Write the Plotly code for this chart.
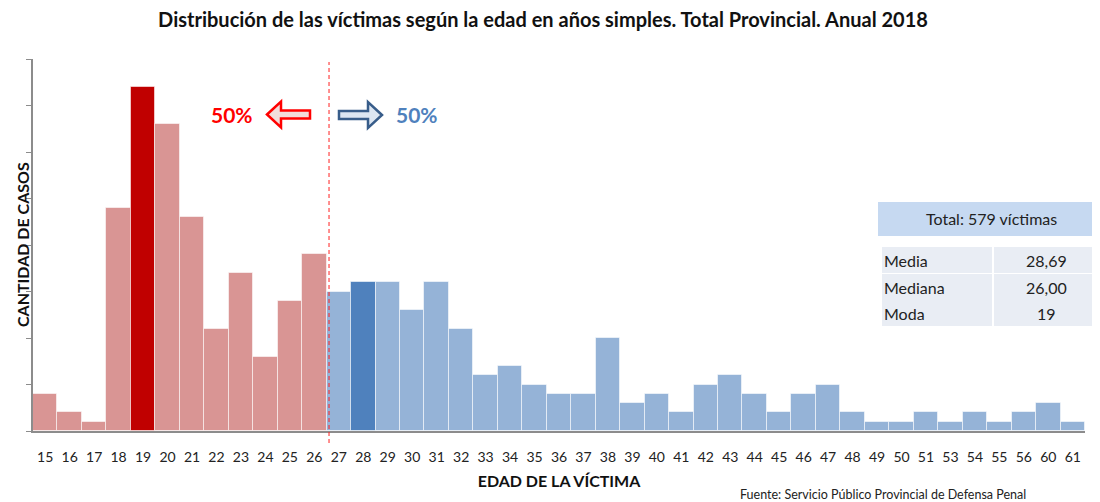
import plotly.graph_objects as go

# ---- data ----
ages = ["15", "16", "17", "18", "19", "20", "21", "22", "23", "24", "25", "26",
        "27", "28", "29", "30", "31", "32", "33", "34", "35", "36", "37", "38",
        "39", "40", "41", "42", "43", "44", "45", "46", "47", "48", "49", "50",
        "51", "53", "54", "55", "56", "60", "61"]
cases = [4, 2, 1, 24, 37, 33, 23, 11, 17, 8, 14, 19,
         15, 16, 16, 13, 16, 11, 6, 7, 5, 4, 4, 10,
         3, 4, 2, 5, 6, 4, 2, 4, 5, 2, 1, 1,
         2, 1, 2, 1, 2, 3, 1]
median_age = "26"
mode_age = "19"
blue_highlight_age = "28"
stat_labels = ["Media", "Mediana", "Moda"]
stat_values = ["28,69", "26,00", "19"]
total_text = "Total: 579 víctimas"

RED_LIGHT = "#d99594"
RED_DARK = "#c00000"
BLUE_LIGHT = "#95b3d7"
BLUE_DARK = "#4f81bd"

W, H = 1100, 502
OFF = 8  # page body margin offset
ML, MT = 33 - OFF, 59 - OFF
PW, PH = 1052, 372
MR = W - ML - PW
MB = H - MT - PH

# reference-pixel -> paper coordinates
def px(x):
    return (x - 33) / PW

def py(y):
    return (431 - y) / PH

med_idx = ages.index(median_age)
colors = []
for i, a in enumerate(ages):
    if a == mode_age:
        colors.append(RED_DARK)
    elif a == blue_highlight_age:
        colors.append(BLUE_DARK)
    elif i <= med_idx:
        colors.append(RED_LIGHT)
    else:
        colors.append(BLUE_LIGHT)

FONT = "Lato"

fig = go.Figure()
fig.add_trace(go.Bar(
    x=ages, y=cases,
    marker=dict(color=colors, line=dict(color="rgba(255,255,255,0.55)", width=1)),
    hoverinfo="x+y",
))

shapes = []
shapes.append(dict(type="line", xref="x", yref="paper",
                   x0=med_idx + 0.6, x1=med_idx + 0.6, y0=py(443), y1=py(62),
                   line=dict(color="#ff2020", width=1, dash="4px,3px")))

def arrow_path(tip, head_base, tail, yc, half_head, half_shaft):
    pts = [(tip, yc), (head_base, yc - half_head), (head_base, yc - half_shaft),
           (tail, yc - half_shaft), (tail, yc + half_shaft), (head_base, yc + half_shaft),
           (head_base, yc + half_head)]
    return "M " + " L ".join(f"{px(x):.5f},{py(y):.5f}" for x, y in pts) + " Z"

shapes.append(dict(type="path", xref="paper", yref="paper",
                   path=arrow_path(267, 281, 310, 114.5, 13, 4),
                   fillcolor="#f2dcdb", line=dict(color="#ff0000", width=2.5)))
shapes.append(dict(type="path", xref="paper", yref="paper",
                   path=arrow_path(382, 368, 339, 115, 13, 4),
                   fillcolor="#dce6f2", line=dict(color="#385d8a", width=2.5)))

# table
shapes.append(dict(type="rect", xref="paper", yref="paper",
                   x0=px(878), x1=px(1110), y0=py(236), y1=py(202),
                   fillcolor="#c6d9f1", line=dict(width=0), layer="above"))
row_tops = [247, 274, 300]
row_h = 26
for r, top in enumerate(row_tops):
    shapes.append(dict(type="rect", xref="paper", yref="paper",
                       x0=px(882), x1=px(992), y0=py(top + row_h), y1=py(top),
                       fillcolor="#e9edf4", line=dict(width=0), layer="above"))
    shapes.append(dict(type="rect", xref="paper", yref="paper",
                       x0=px(994), x1=px(1110), y0=py(top + row_h), y1=py(top),
                       fillcolor="#e9edf4", line=dict(width=0), layer="above"))

def ann(text, x, y, size, color, xanchor="center", yanchor="middle", angle=0):
    return dict(text=text, xref="paper", yref="paper", x=x, y=y, showarrow=False,
                xanchor=xanchor, yanchor=yanchor, textangle=angle,
                font=dict(family=FONT, size=size, color=color))

annotations = [
    ann("<b>50%</b>", px(232), py(114), 21, "#ff0000"),
    ann("<b>50%</b>", px(417), py(114), 21, BLUE_DARK),
    ann(total_text, px(991), py(219), 16, "#222222"),
]
for r, top in enumerate(row_tops):
    annotations.append(ann(stat_labels[r], px(882), py(top + row_h / 2), 16, "#222222",
                           xanchor="left"))
    annotations.append(ann(stat_values[r], px(1046), py(top + row_h / 2), 16, "#222222"))
annotations.append(ann("<b>CANTIDAD DE CASOS</b>", px(22), 0.5, 16, "#111111", angle=-90))
annotations.append(ann("Fuente: Servicio Público Provincial de Defensa Penal",
                       px(738), py(494), 12.5, "#222222", xanchor="left"))

fig.update_layout(
    width=W, height=H,
    margin=dict(l=ML, r=MR, t=MT, b=MB, autoexpand=False),
    paper_bgcolor="white", plot_bgcolor="white",
    title=dict(text="<b>Distribución de las víctimas según la edad en años simples. Total Provincial. Anual 2018</b>",
               x=(543 - OFF) / W, xanchor="center", y=1 - (20 - OFF) / H, yanchor="middle",
               font=dict(family=FONT, size=20, color="#111111")),
    bargap=0,
    showlegend=False,
    shapes=shapes,
    annotations=annotations,
    xaxis=dict(type="category", showgrid=False, showline=True, linecolor="#8c8c8c",
               linewidth=1.5, ticks="outside", ticklen=12, tickcolor="rgba(0,0,0,0)",
               tickfont=dict(family=FONT, size=14, color="#222222"),
               title=dict(text="<b>EDAD DE LA VÍCTIMA</b>", standoff=12,
                          font=dict(family=FONT, size=16, color="#111111"))),
    yaxis=dict(range=[0, 40], dtick=5, showgrid=False, showline=True,
               linecolor="#8c8c8c", linewidth=1.5, ticks="outside", ticklen=5,
               tickcolor="#8c8c8c", showticklabels=False, zeroline=False),
    font=dict(family=FONT),
)

fig.write_html("out.html")
